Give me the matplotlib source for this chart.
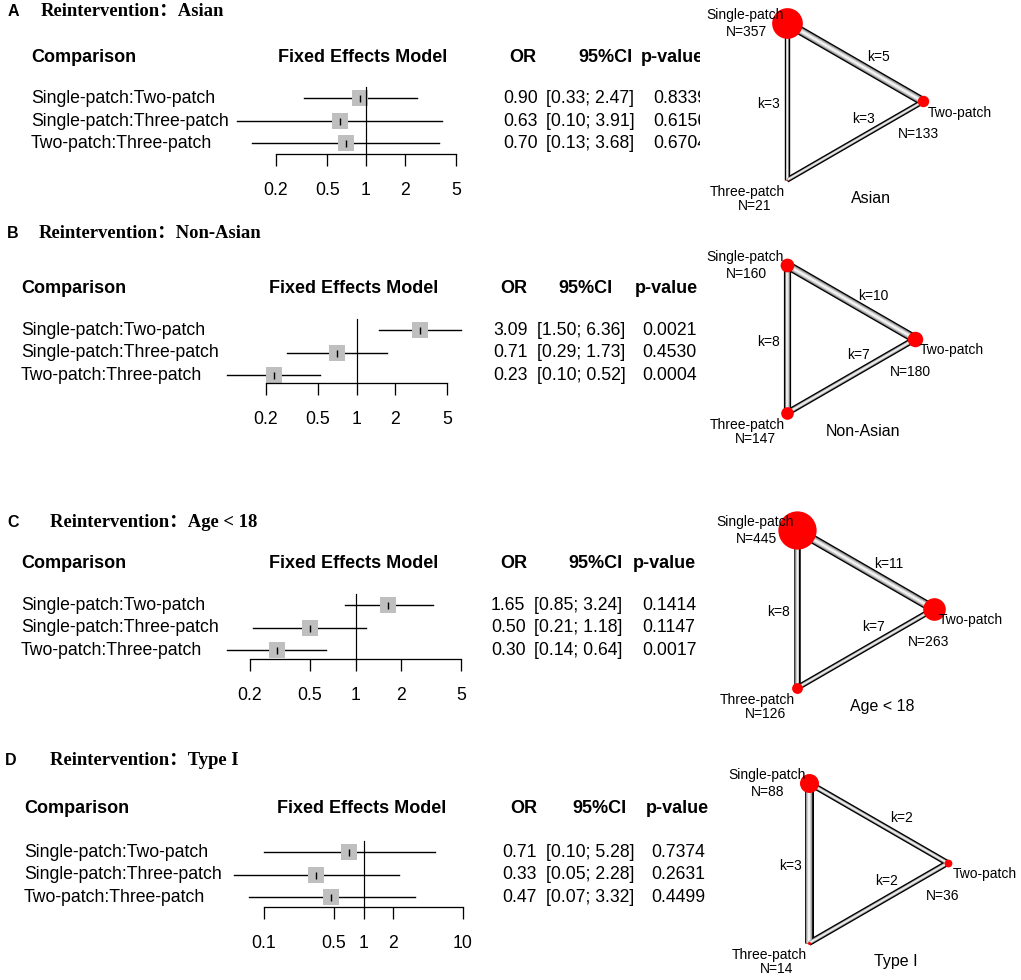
import matplotlib
matplotlib.use('Agg')
import matplotlib.pyplot as plt
from matplotlib.ticker import NullLocator
from matplotlib.transforms import Bbox

plt.rcParams['font.family'] = ['Liberation Sans', 'DejaVu Sans']

# ---- data -------------------------------------------------------------
letters = ['A', 'B', 'C', 'D']
subgroups = ['Asian', 'Non-Asian', 'Age < 18', 'Type I']
comparisons = ['Single-patch:Two-patch', 'Single-patch:Three-patch', 'Two-patch:Three-patch']
treatments = ['Single-patch', 'Two-patch', 'Three-patch']

or_asian = [0.90, 0.63, 0.70]
lo_asian = [0.33, 0.10, 0.13]
hi_asian = [2.47, 3.91, 3.68]
p_asian = [0.8339, 0.6156, 0.6704]

or_nonasian = [3.09, 0.71, 0.23]
lo_nonasian = [1.50, 0.29, 0.10]
hi_nonasian = [6.36, 1.73, 0.52]
p_nonasian = [0.0021, 0.4530, 0.0004]

or_age = [1.65, 0.50, 0.30]
lo_age = [0.85, 0.21, 0.14]
hi_age = [3.24, 1.18, 0.64]
p_age = [0.1414, 0.1147, 0.0017]

or_type1 = [0.71, 0.33, 0.47]
lo_type1 = [0.10, 0.05, 0.07]
hi_type1 = [5.28, 2.28, 3.32]
p_type1 = [0.7374, 0.2631, 0.4499]

# patients per treatment (Single, Two, Three)
n_asian = [357, 133, 21]
n_nonasian = [160, 180, 147]
n_age = [445, 263, 126]
n_type1 = [88, 36, 14]

# studies per edge: Single-Two, Single-Three, Two-Three
k_asian = [5, 3, 3]
k_nonasian = [10, 8, 7]
k_age = [11, 8, 7]
k_type1 = [2, 3, 2]

ticks_std = [0.2, 0.5, 1, 2, 5]
ticks_type1 = [0.1, 0.5, 1, 2, 10]

panels = [
    (or_asian, lo_asian, hi_asian, p_asian, n_asian, k_asian, ticks_std),
    (or_nonasian, lo_nonasian, hi_nonasian, p_nonasian, n_nonasian, k_nonasian, ticks_std),
    (or_age, lo_age, hi_age, p_age, n_age, k_age, ticks_std),
    (or_type1, lo_type1, hi_type1, p_type1, n_type1, k_type1, ticks_type1),
]

# ---- layout (pixels) --------------------------------------------------
layouts = [
    dict(title_y=12, header_y=57, row0=98.5, axis_y=154, x_letter=8, x_title=41, x_lab=31,
         ax_l=276, ax_r=456, fem=363, or_c=523, ci_r=632, p_l=641,
         x_or=503, x_ci=546, x_p=653, clip=700,
         sx=787, sy=23, side=157, nscale=0.043),
    dict(title_y=233, header_y=288, row0=330, axis_y=383, x_letter=7, x_title=39, x_lab=21,
         ax_l=266, ax_r=447, fem=354, or_c=514, ci_r=612, p_l=635,
         x_or=493, x_ci=537, x_p=642, clip=None,
         sx=787, sy=265, side=148, nscale=0.043),
    dict(title_y=522, header_y=563, row0=605, axis_y=659, x_letter=7, x_title=50, x_lab=21,
         ax_l=250, ax_r=461, fem=354, or_c=514, ci_r=622, p_l=633,
         x_or=491, x_ci=534, x_p=642, clip=None,
         sx=797, sy=530, side=158, nscale=0.043),
    dict(title_y=760, header_y=808, row0=852, axis_y=907, x_letter=5, x_title=50, x_lab=24,
         ax_l=264, ax_r=463, fem=362, or_c=524, ci_r=626, p_l=646,
         x_or=502, x_ci=546, x_p=651, clip=None,
         sx=809, sy=783, side=160, nscale=0.108),
]

W, H = 1021, 980
ROW_GAP = 22.5
FS = 12.7


def pt(v):
    # pixels -> points at 100 dpi
    return v * 0.72


fig = plt.figure(figsize=(W / 100, H / 100), dpi=100)
bg = fig.add_axes([0, 0, 1, 1])
bg.set_xlim(0, W)
bg.set_ylim(H, 0)
bg.axis('off')

for i, (ors, los, his, ps, ns, ks, ticks) in enumerate(panels):
    L = layouts[i]
    texts = []

    # titles
    bg.text(L['x_letter'], L['title_y'], letters[i], fontsize=11.5, fontweight='bold', va='center')
    bg.text(L['x_title'], L['title_y'], 'Reintervention\uff1a' + subgroups[i],
            family=['Liberation Serif', 'Noto Sans CJK SC'], fontsize=13.4, fontweight='bold', va='center')

    # header
    hy = L['header_y']
    bg.text(L['x_lab'], hy, 'Comparison', fontsize=13, fontweight='bold', va='center')
    bg.text(L['fem'], hy, 'Fixed Effects Model', fontsize=13, fontweight='bold', va='center', ha='center')
    bg.text(L['or_c'], hy, 'OR', fontsize=13, fontweight='bold', va='center', ha='center')
    bg.text(L['ci_r'], hy, '95%CI', fontsize=13, fontweight='bold', va='center', ha='right')
    texts.append(bg.text(L['p_l'], hy, 'p-value', fontsize=13, fontweight='bold', va='center'))

    # forest axes
    ax = fig.add_axes([L['ax_l'] / W, (H - L['axis_y']) / H,
                       (L['ax_r'] - L['ax_l']) / W, (L['axis_y'] - L['title_y']) / H])
    ax.set_xscale('log')
    ax.set_xlim(ticks[0], ticks[-1])
    ax.set_ylim(L['axis_y'], L['title_y'])
    ax.patch.set_visible(False)
    for s in ['top', 'right', 'left']:
        ax.spines[s].set_visible(False)
    ax.spines['bottom'].set_linewidth(pt(1.3))
    ax.set_xticks(ticks)
    ax.set_xticklabels(['%g' % t for t in ticks])
    ax.xaxis.set_minor_locator(NullLocator())
    ax.set_yticks([])
    ax.tick_params(axis='x', length=pt(12), width=pt(1.3), pad=pt(16), labelsize=FS, direction='out')

    rows_y = [L['row0'] + j * ROW_GAP for j in range(len(comparisons))]
    ax.plot([1, 1], [rows_y[0] - 11, L['axis_y']], color='black', lw=pt(1.2), zorder=4, clip_on=False)
    for j, comp in enumerate(comparisons):
        y = rows_y[j]
        ax.plot([los[j], his[j]], [y, y], color='black', lw=pt(1.4), zorder=1, clip_on=False)
        ax.scatter([ors[j]], [y], marker='s', s=pt(16.5) ** 2, color='#bfbfbf', lw=0, zorder=2, clip_on=False)
        ax.plot([ors[j]], [y], marker='|', ms=pt(7), mew=pt(1.4), color='black', zorder=5, clip_on=False)

        bg.text(L['x_lab'], y, comp, fontsize=FS, va='center')
        texts.append(bg.text(L['x_or'], y, '%.2f' % ors[j], fontsize=FS, va='center'))
        texts.append(bg.text(L['x_ci'], y, '[%.2f; %.2f]' % (los[j], his[j]), fontsize=FS, va='center'))
        texts.append(bg.text(L['x_p'], y, '%.4f' % ps[j], fontsize=FS, va='center'))

    if L['clip'] is not None:
        for t in texts:
            t.set_clip_on(True)
            t.set_clip_box(Bbox([[0, 0], [L['clip'], H]]))

    # network graph
    sx, sy, side = L['sx'], L['sy'], L['side']
    pos = [(sx, sy), (sx + side * 0.866, sy + side / 2), (sx, sy + side)]
    edges = [(0, 1), (0, 2), (1, 2)]
    kmax = max(ks)
    for (a, b), k in zip(edges, ks):
        w = 9.0 * k / kmax
        inner = max(w - 2.6, 1.0)
        xs = [pos[a][0], pos[b][0]]
        ys = [pos[a][1], pos[b][1]]
        bg.plot(xs, ys, color='black', lw=pt(w), solid_capstyle='butt', zorder=2)
        bg.plot(xs, ys, color='#8e8e8e', lw=pt(inner), solid_capstyle='butt', zorder=3)
        bg.plot(xs, ys, color='#c9c9c9', lw=pt(inner * 0.7), solid_capstyle='butt', zorder=3)
        bg.plot(xs, ys, color='#f2f2f2', lw=pt(inner * 0.35), solid_capstyle='butt', zorder=3)
    for (x, y), n in zip(pos, ns):
        r = L['nscale'] * n
        bg.scatter([x], [y], s=pt(2 * r) ** 2, color='red', lw=0, zorder=5)

    (x0, y0), (x1, y1), (x2, y2) = pos
    bg.text(x0 - 42, y0 - 8, treatments[0], fontsize=10, ha='center', va='center', zorder=6)
    bg.text(x0 - 41, y0 + 9, 'N=%d' % ns[0], fontsize=10, ha='center', va='center', zorder=6)
    bg.text(x1 + 5, y1 + 11, treatments[1], fontsize=10, ha='left', va='center', zorder=6)
    bg.text(x1 - 5, y1 + 33, 'N=%d' % ns[1], fontsize=10, ha='center', va='center', zorder=6)
    bg.text(x2 - 40, y2 + 12, treatments[2], fontsize=10, ha='center', va='center', zorder=6)
    bg.text(x2 - 32, y2 + 26, 'N=%d' % ns[2], fontsize=10, ha='center', va='center', zorder=6)
    bg.text(x1 - 52, y2 + 18, subgroups[i], fontsize=11.5, ha='center', va='center')

    bg.text(x0 + 0.67 * (x1 - x0), y0 + 0.67 * (y1 - y0) - 19, 'k=%d' % ks[0], fontsize=10, ha='center', va='center')
    bg.text(x0 - 19, (y0 + y2) / 2 + 3, 'k=%d' % ks[1], fontsize=10, ha='center', va='center')
    bg.text(x2 + 0.56 * (x1 - x2), y2 + 0.56 * (y1 - y2) - 17, 'k=%d' % ks[2], fontsize=10, ha='center', va='center')

fig.savefig('out.png', dpi=100)
